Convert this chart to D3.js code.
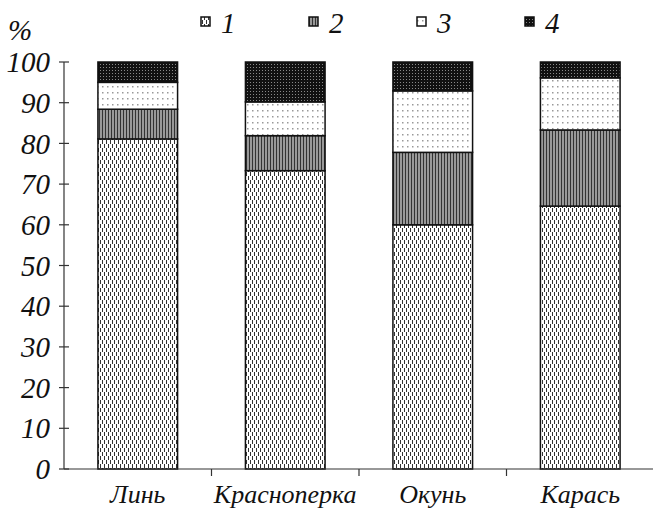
<!DOCTYPE html>
<html><head><meta charset="utf-8">
<script src="https://cdn.jsdelivr.net/npm/d3@7"></script>
<style>
body{margin:0;background:#fff;}
</style></head>
<body><svg id="c" width="653" height="509"></svg>
<script>
const categories = ["Линь", "Красноперка", "Окунь", "Карась"];
const seriesNames = ["1", "2", "3", "4"];
const s1 = [81.1, 73.3, 60.0, 64.6];
const s2 = [7.3, 8.6, 17.8, 18.7];
const s3 = [6.6, 8.3, 15.1, 12.8];
const s4 = [5.0, 9.8, 7.1, 3.9];
const yTicks = [0, 10, 20, 30, 40, 50, 60, 70, 80, 90, 100];

const FONT = "Liberation Serif";
const svg = d3.select("#c");
const defs = svg.append("defs");

// patterns
const p1 = defs.append("pattern").attr("id","p1").attr("patternUnits","userSpaceOnUse").attr("width",4).attr("height",8);
p1.append("rect").attr("width",4).attr("height",8).attr("fill","#fff");
p1.append("rect").attr("x",0).attr("y",0).attr("width",1).attr("height",4).attr("fill","#333");
p1.append("rect").attr("x",2).attr("y",4).attr("width",1).attr("height",4).attr("fill","#333");

const p2 = defs.append("pattern").attr("id","p2").attr("patternUnits","userSpaceOnUse").attr("width",3).attr("height",3);
p2.append("rect").attr("width",3).attr("height",3).attr("fill","#999");
p2.append("rect").attr("x",0).attr("width",1).attr("height",3).attr("fill","#333");

const p3 = defs.append("pattern").attr("id","p3").attr("patternUnits","userSpaceOnUse").attr("width",5).attr("height",6);
p3.append("rect").attr("width",5).attr("height",6).attr("fill","#fff");
p3.append("rect").attr("x",2).attr("y",2).attr("width",1.5).attr("height",1.5).attr("fill","#999");

const p4 = defs.append("pattern").attr("id","p4").attr("patternUnits","userSpaceOnUse").attr("width",3).attr("height",3);
p4.append("rect").attr("width",3).attr("height",3).attr("fill","#111");
p4.append("rect").attr("x",1).attr("y",1).attr("width",1).attr("height",1).attr("fill","#888");

const fills = ["url(#p1)","url(#p2)","url(#p3)","url(#p4)"];

const x0 = 64, x1 = 654, yBase = 469, yTop = 62;
const x = d3.scaleBand().domain(categories).range([x0, x1]).paddingInner(0.46).paddingOuter(0.23);
const y = d3.scaleLinear().domain([0, 100]).range([yBase, yTop]);

const rows = categories.map((c, i) => ({cat: c, "1": s1[i], "2": s2[i], "3": s3[i], "4": s4[i]}));
const stacked = d3.stack().keys(seriesNames)(rows);

const g = svg.append("g");
stacked.forEach((layer, li) => {
  g.selectAll(null).data(layer).enter().append("rect")
    .attr("x", d => x(d.data.cat))
    .attr("width", x.bandwidth())
    .attr("y", d => y(d[1]))
    .attr("height", d => y(d[0]) - y(d[1]))
    .attr("fill", fills[li])
    .attr("stroke", "#111")
    .attr("stroke-width", 1.5);
});

function txt(sel){ return sel.attr("font-family", FONT).attr("font-style", "italic").attr("fill", "#111"); }

// y axis
const ya = svg.append("g");
ya.append("line").attr("x1", x0).attr("x2", x0).attr("y1", y(100)).attr("y2", yBase).attr("stroke", "#333").attr("stroke-width", 1.2);
ya.selectAll("line.t").data(yTicks).enter().append("line")
  .attr("x1", x0 - 5).attr("x2", x0 + 5)
  .attr("y1", d => y(d)).attr("y2", d => y(d))
  .attr("stroke", "#333").attr("stroke-width", 1.2);
txt(ya.selectAll("text").data(yTicks).enter().append("text")
  .attr("x", 50).attr("y", d => y(d))
  .attr("dy", "0.35em").attr("text-anchor", "end")
  .attr("font-size", 29).text(d => d));

// x axis
const xa = svg.append("g");
xa.append("line").attr("x1", x0).attr("x2", x1).attr("y1", yBase).attr("y2", yBase).attr("stroke", "#333").attr("stroke-width", 1.2);
const step = x.step();
const bounds = categories.slice(1).map(c => x(c) - x.paddingInner() * step / 2);
xa.selectAll("line.t").data(bounds).enter().append("line")
  .attr("x1", d => d).attr("x2", d => d)
  .attr("y1", yBase).attr("y2", yBase + 7)
  .attr("stroke", "#333").attr("stroke-width", 1.2);
txt(xa.selectAll("text").data(categories).enter().append("text")
  .attr("x", d => x(d) + x.bandwidth() / 2).attr("y", 503)
  .attr("text-anchor", "middle").attr("font-size", 26).text(d => d));

// % label
txt(svg.append("text").attr("x", 8).attr("y", 40).attr("font-size", 29).text("%"));

// legend
const legX = [201, 309, 417, 525];
const leg = svg.append("g");
seriesNames.forEach((n, i) => {
  leg.append("rect").attr("x", legX[i]).attr("y", 17).attr("width", 9).attr("height", 9)
    .attr("fill", fills[i]).attr("stroke", "#111").attr("stroke-width", 1.5);
  txt(leg.append("text").attr("x", legX[i] + 20).attr("y", 33).attr("font-size", 29).text(n));
});
</script></body></html>
